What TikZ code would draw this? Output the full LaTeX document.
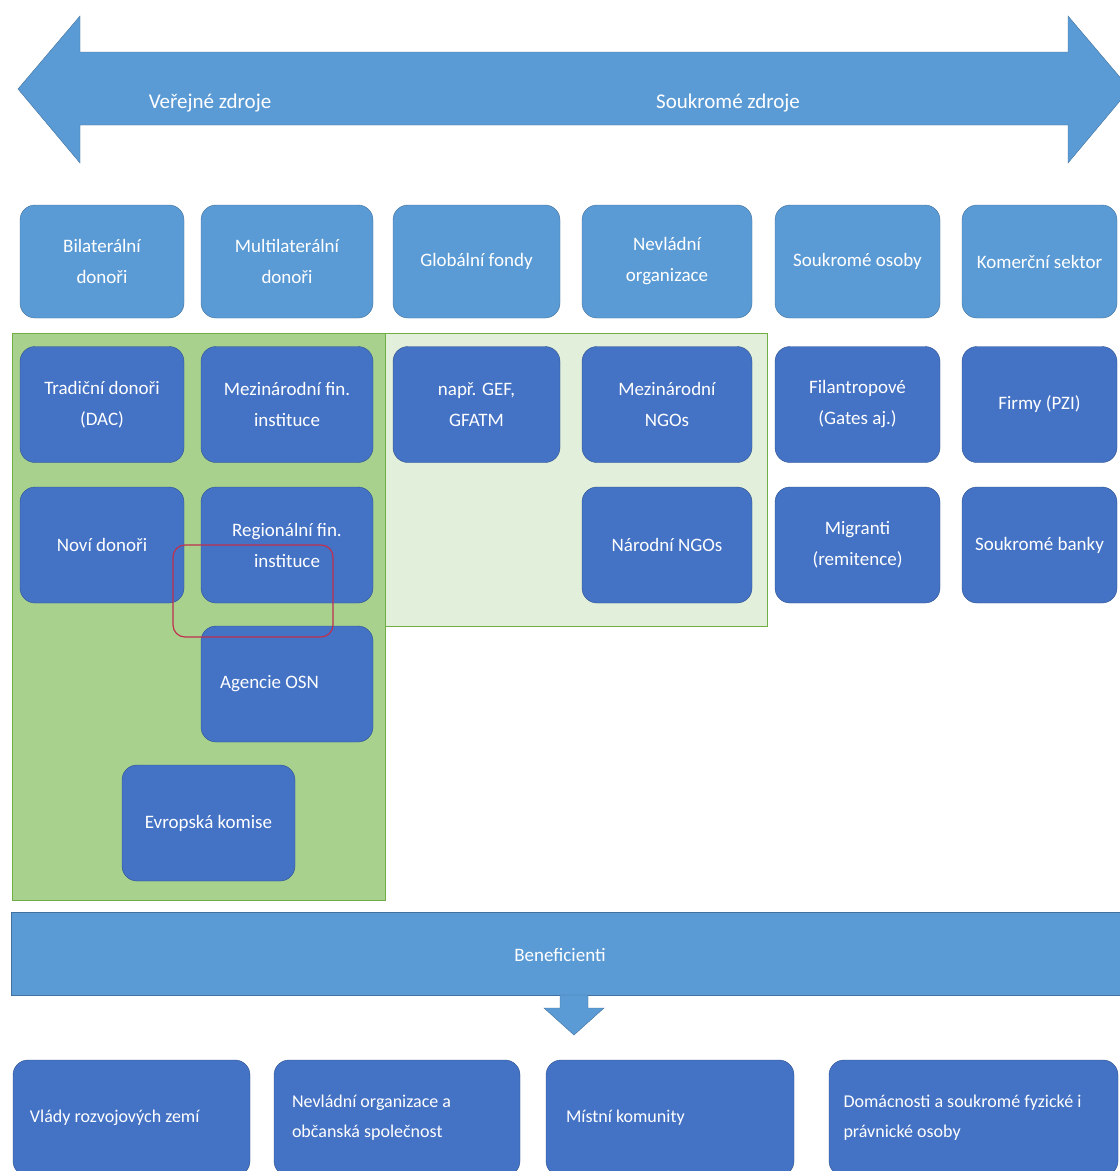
\documentclass[tikz,border=0pt]{standalone}
\usepackage{fontspec}
\setmainfont{Carlito}
\usetikzlibrary{positioning}
\definecolor{srcblue}{HTML}{5B9BD5}
\definecolor{srcedge}{HTML}{41719C}
\definecolor{subblue}{HTML}{4472C4}
\definecolor{subedge}{HTML}{2F528F}
\definecolor{pubgreen}{HTML}{A9D18E}
\definecolor{ngogreen}{HTML}{E2EFDA}
\definecolor{greenedge}{HTML}{70AD47}
\definecolor{markred}{HTML}{C0304F}

\begin{document}
\begin{tikzpicture}[x=1pt,y=-1pt,
  srcbox/.style={draw=srcedge,fill=srcblue,rounded corners=15pt,text=white,align=center,inner sep=0pt,minimum height=113pt,font=\fontsize{19}{31}\selectfont},
  subbox/.style={draw=subedge,fill=subblue,rounded corners=15pt,text=white,align=center,inner sep=0pt,minimum height=116pt,font=\fontsize{19}{31}\selectfont},
  benbox/.style={draw=subedge,fill=subblue,rounded corners=15pt,text=white,align=flush left,inner sep=0pt,minimum height=116pt,font=\fontsize{18}{30}\selectfont},
  biglabel/.style={text=white,font=\fontsize{21}{25}\selectfont}]
\clip (0,0) rectangle (1120,1171);
\fill[white] (0,0) rectangle (1120,1171);

% zdroje
\draw[srcedge,fill=srcblue] (18,89)--(80,16)--(80,52)--(1068,52)--(1068,16)--(1130,89)--(1068,163)--(1068,125)--(80,125)--(80,163)--cycle;
\node[biglabel] (pub) at (210,103) {Veřejné zdroje};
\node[biglabel] (priv) at (728,103) {Soukromé zdroje};

% typy donoru
\node[srcbox,minimum width=164pt] (bilat) at (102,261.5) {Bilaterální\\donoři};
\node[srcbox,minimum width=172pt] (multi) at (287,261.5) {Multilaterální\\donoři};
\node[srcbox,minimum width=167pt] (glob) at (476.5,261.5) {Globální fondy};
\node[srcbox,minimum width=170pt] (ngo) at (667,261.5) {Nevládní\\organizace};
\node[srcbox,minimum width=165pt] (osoby) at (857.5,261.5) {Soukromé osoby};
\node[srcbox,minimum width=155pt] (komerc) at (1039.5,261.5) {Komerční sektor};

% skupiny
\draw[greenedge,fill=pubgreen] (12,333) rectangle (385,900);
\draw[greenedge,fill=ngogreen] (385,333) rectangle (767,626);

\node[subbox,minimum width=164pt] (dac) at (102,404.5) {Tradiční donoři\\(DAC)};
\node[subbox,minimum width=172pt] (mfi) at (287,404.5) {Mezinárodní fin.\\instituce};
\node[subbox,minimum width=167pt] (gef) at (476.5,404.5) {např. GEF,\\GFATM};
\node[subbox,minimum width=170pt] (mngo) at (667,404.5) {Mezinárodní\\NGOs};
\node[subbox,minimum width=165pt] (filan) at (857.5,404.5) {Filantropové\\(Gates aj.)};
\node[subbox,minimum width=155pt] (firmy) at (1039.5,404.5) {Firmy (PZI)};

\node[subbox,minimum width=164pt] (novi) at (102,545) {Noví donoři};
\node[subbox,minimum width=172pt] (rfi) at (287,545) {Regionální fin.\\instituce};
\node[subbox,minimum width=170pt] (nngo) at (667,545) {Národní NGOs};
\node[subbox,minimum width=165pt] (migr) at (857.5,545) {Migranti\\(remitence)};
\node[subbox,minimum width=155pt] (banky) at (1039.5,545) {Soukromé banky};

\node[subbox,minimum width=172pt,text width=134pt,align=flush left] (osn) at (287,684) {Agencie OSN};
\node[subbox,minimum width=173pt] (ek) at (208.5,823) {Evropská komise};

\draw[markred,line width=1.2pt,rounded corners=12pt] (173,545) rectangle (333,637);

% beneficienti
\node[draw=srcedge,fill=srcblue,minimum width=1112pt,minimum height=83pt,inner sep=0pt] (benef) at (567,953.5) {};
\node[text=white,font=\fontsize{19}{22}\selectfont] (beneftxt) at (560,955) {Beneficienti};
\draw[srcedge,fill=srcblue] (560,995)--(588,995)--(588,1008)--(604,1008)--(574,1035)--(544,1008)--(560,1008)--cycle;

\node[benbox,minimum width=237pt,text width=203pt] (vlady) at (131.5,1118) {Vlády rozvojových zemí};
\node[benbox,minimum width=246pt,text width=210pt] (obcan) at (397,1118) {Nevládní organizace a\\občanská společnost};
\node[benbox,minimum width=248pt,text width=208pt] (komun) at (670,1118) {Místní komunity};
\node[benbox,minimum width=289pt,text width=260pt] (domac) at (973.5,1118) {Domácnosti a soukromé fyzické i\\právnické osoby};
\end{tikzpicture}
\end{document}
